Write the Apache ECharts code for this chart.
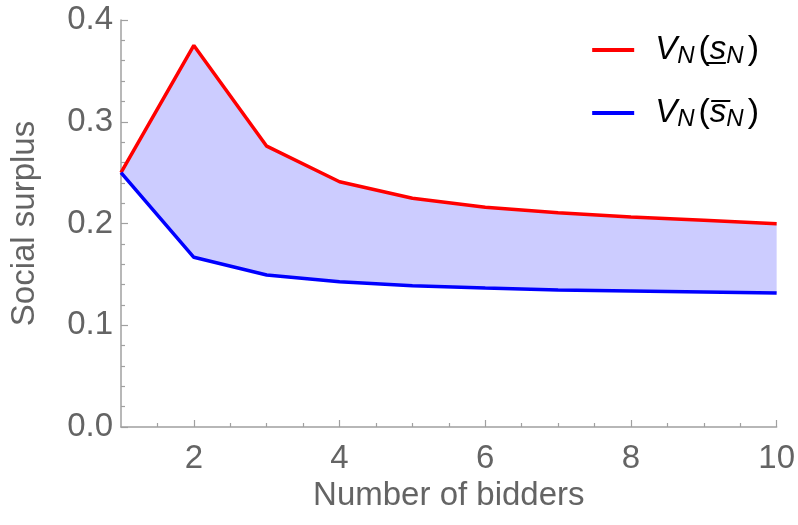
<!DOCTYPE html>
<html>
<head>
<meta charset="utf-8">
<script src="https://cdn.jsdelivr.net/npm/echarts@6/dist/echarts.min.js"></script>
<style>html,body{margin:0;padding:0;background:#fff}#c{width:798px;height:525px}</style>
</head>
<body>
<div id="c"></div>
<script>
const bidders = ['1', '2', '3', '4', '5', '6', '7', '8', '9', '10'];
const upperSurplus = [0.25, 0.375, 0.276, 0.241, 0.2248, 0.216, 0.2105, 0.2064, 0.2032, 0.1997];
const lowerSurplus = [0.25, 0.1668, 0.1494, 0.1428, 0.1389, 0.1366, 0.1347, 0.1337, 0.1327, 0.1317];
const xMajorTicks = [2, 4, 6, 8, 10];
const xMinorTicks = [1.5, 2.5, 3, 3.5, 4.5, 5, 5.5, 6.5, 7, 7.5, 8.5, 9, 9.5];

const FONT = 'Liberation Sans';
const TXT = '#646464';
const AX = '#a0a0a0';

const bandWidth = upperSurplus.map((u, i) => u - lowerSurplus[i]);

const chart = echarts.init(document.getElementById('c'), null, {renderer: 'canvas'});
const legendRich = {
  v: {fontFamily: FONT, fontSize: 33, fontStyle: 'italic', color: '#000', lineHeight: 36, padding: [0, 0, 0, 16]},
  p: {fontFamily: FONT, fontSize: 34, color: '#000', lineHeight: 36, padding: [0, 0, 0, 4]},
  s: {fontFamily: FONT, fontSize: 33, fontStyle: 'italic', color: '#000', lineHeight: 36},
  sub: {fontFamily: FONT, fontSize: 24, fontStyle: 'italic', color: '#000', lineHeight: 20, verticalAlign: 'bottom'}
};
chart.setOption({
  animation: false,
  grid: {left: 118, right: 18, top: 20, bottom: 98, containLabel: false},
  legend: {
    orient: 'vertical', right: 34, top: 28, itemGap: 28,
    icon: 'rect', itemWidth: 42, itemHeight: 4,
    data: ['upper', 'lower'],
    formatter: function (name) {
      return name === 'upper'
        ? '{v|V}{sub|N}{p|(}{s|s\u0332}{sub|N}{p|)}'
        : '{v|V}{sub|N}{p|(}{s|s\u0305}{sub|N}{p|)}';
    },
    textStyle: {rich: legendRich}
  },
  xAxis: [{
    type: 'value', min: 1, max: 10, interval: 1,
    name: 'Number of bidders', nameLocation: 'middle', nameGap: 48,
    nameTextStyle: {fontFamily: FONT, fontSize: 33, color: TXT},
    axisLine: {show: true, lineStyle: {color: AX, width: 1.5}},
    axisTick: {show: true, inside: true, length: 7, customValues: xMajorTicks, lineStyle: {color: AX, width: 1.2}},
    axisLabel: {customValues: xMajorTicks, fontFamily: FONT, fontSize: 33, color: TXT, margin: 15},
    splitLine: {show: false}
  }, {
    type: 'value', min: 1, max: 10, interval: 1, position: 'bottom',
    axisLine: {show: false},
    axisTick: {show: true, inside: true, length: 4, customValues: xMinorTicks, lineStyle: {color: AX, width: 1.2}},
    axisLabel: {show: false},
    splitLine: {show: false}
  }, {
    type: 'category', data: bidders, boundaryGap: false, position: 'bottom', show: false
  }],
  yAxis: {
    type: 'value', min: 0, max: 0.4, interval: 0.1,
    name: 'Social surplus', nameLocation: 'middle', nameGap: 80,
    nameTextStyle: {fontFamily: FONT, fontSize: 33, color: TXT},
    axisLine: {show: true, lineStyle: {color: AX, width: 1.5}},
    axisTick: {show: true, inside: true, length: 7, lineStyle: {color: AX, width: 1.2}},
    minorTick: {show: true, splitNumber: 5, length: 4, lineStyle: {color: AX, width: 1.2}},
    axisLabel: {fontFamily: FONT, fontSize: 33, color: TXT, margin: 8, formatter: v => v.toFixed(1)},
    splitLine: {show: false}
  },
  series: [
    {name: 'base', type: 'line', xAxisIndex: 2, stack: 'band', data: lowerSurplus, symbol: 'none', lineStyle: {opacity: 0}, silent: true},
    {name: 'band', type: 'line', xAxisIndex: 2, stack: 'band', data: bandWidth, symbol: 'none', lineStyle: {opacity: 0},
     areaStyle: {color: 'rgb(204,204,255)', opacity: 1}, silent: true},
    {name: 'upper', type: 'line', xAxisIndex: 2, data: upperSurplus, symbol: 'none', z: 5, lineStyle: {color: '#ff0000', width: 3.5}, itemStyle: {color: '#ff0000'}},
    {name: 'lower', type: 'line', xAxisIndex: 2, data: lowerSurplus, symbol: 'none', z: 5, lineStyle: {color: '#0000ff', width: 3.5}, itemStyle: {color: '#0000ff'}}
  ]
});
</script>
</body>
</html>
